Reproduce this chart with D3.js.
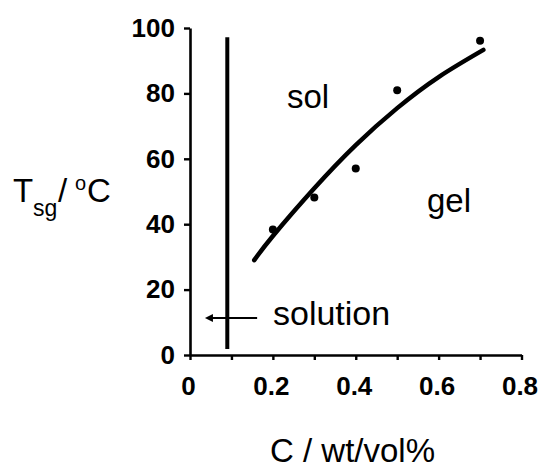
<!DOCTYPE html>
<html>
<head>
<meta charset="utf-8">
<script src="https://cdn.jsdelivr.net/npm/d3@7"></script>
<style>
  body { margin: 0; background: #fff; }
  text { font-family: "Liberation Sans", Arial, sans-serif; fill: #000; }
</style>
</head>
<body>
<div id="chart"></div>
<script>
// measured points
var concentration = [0.2, 0.3, 0.4, 0.5, 0.7];
var tsg = [38.4, 48.2, 57.0, 81.0, 96.1];

// fitted curve
var fitC = [0.155, 0.2, 0.3, 0.4, 0.5, 0.6, 0.708];
var fitT = [29.0, 36.4, 51.0, 64.2, 75.5, 85.0, 93.3];

var xTicks = [0, 0.1, 0.2, 0.3, 0.4, 0.5, 0.6, 0.7, 0.8];
var yTicks = [0, 20, 40, 60, 80, 100];

// solution boundary
var boundaryC = 0.09;
var boundaryT = [1.8, 97.2];
var arrowC = [0.162, 0.036];
var arrowT = 11.3;

var W = 539, H = 470;
var margin = {top: 28, left: 190};
var width = 331.5, height = 327;

var svg = d3.select("#chart").append("svg")
  .attr("width", W)
  .attr("height", H);

var g = svg.append("g")
  .attr("transform", "translate(" + margin.left + "," + margin.top + ")");

var x = d3.scaleLinear().domain([0, 0.8]).range([0, width]);
var y = d3.scaleLinear().domain([0, 100]).range([height, 0]);

var xAxis = d3.axisBottom(x)
  .tickValues(xTicks)
  .tickSize(5)
  .tickSizeOuter(0)
  .tickPadding(17)
  .tickFormat(function(d) {
    var k = Math.round(d * 10);
    if (k % 2 !== 0) return "";
    return k === 0 ? "0" : d3.format(".1f")(d);
  });

var yAxis = d3.axisLeft(y)
  .tickValues(yTicks)
  .tickSize(6)
  .tickSizeOuter(0)
  .tickPadding(9);

var gx = g.append("g")
  .attr("transform", "translate(0," + height + ")")
  .call(xAxis);
var gy = g.append("g").call(yAxis);

[gx, gy].forEach(function(ax) {
  ax.select(".domain").attr("stroke", "#000").attr("stroke-width", 2.6);
  ax.selectAll(".tick line").attr("stroke", "#000").attr("stroke-width", 2.4);
  ax.selectAll(".tick text")
    .style("font-family", '"Liberation Sans", Arial, sans-serif')
    .style("font-weight", "bold")
    .style("font-size", "26px")
    .attr("fill", "#000");
});
gx.selectAll(".tick text").attr("dx", "-2");

// vertical boundary line
g.append("line")
  .attr("x1", x(boundaryC)).attr("x2", x(boundaryC))
  .attr("y1", y(boundaryT[0])).attr("y2", y(boundaryT[1]))
  .attr("stroke", "#000")
  .attr("stroke-width", 4);

// arrow pointing to solution region
g.append("line")
  .attr("x1", x(arrowC[0])).attr("x2", x(arrowC[1]) + 5)
  .attr("y1", y(arrowT)).attr("y2", y(arrowT))
  .attr("stroke", "#000")
  .attr("stroke-width", 2);

var tipX = x(arrowC[1]), tipY = y(arrowT);
g.append("path")
  .attr("d", "M" + tipX + "," + tipY + "L" + (tipX + 8) + "," + (tipY - 4) + "L" + (tipX + 8) + "," + (tipY + 4) + "Z")
  .attr("fill", "#000");

// fitted curve
var fit = fitC.map(function(c, i) { return [c, fitT[i]]; });
var line = d3.line()
  .x(function(d) { return x(d[0]); })
  .y(function(d) { return y(d[1]); })
  .curve(d3.curveNatural);

g.append("path")
  .datum(fit)
  .attr("d", line)
  .attr("fill", "none")
  .attr("stroke", "#000")
  .attr("stroke-width", 4.5)
  .attr("stroke-linecap", "round");

// data points
g.selectAll("circle.pt")
  .data(concentration)
  .enter().append("circle")
  .attr("class", "pt")
  .attr("cx", function(d) { return x(d); })
  .attr("cy", function(d, i) { return y(tsg[i]); })
  .attr("r", 4)
  .attr("fill", "#000");

// region labels
svg.append("text").attr("x", 287).attr("y", 108).style("font-size", "33px").text("sol");
svg.append("text").attr("x", 427).attr("y", 212).style("font-size", "33px").text("gel");
svg.append("text").attr("x", 273).attr("y", 325).style("font-size", "34px").text("solution");

// axis titles
var yt = svg.append("text").attr("y", 202).style("font-size", "33px");
yt.append("tspan").attr("x", 13).text("T");
yt.append("tspan").attr("x", 33).attr("y", 216).style("font-size", "23px").text("sg");
yt.append("tspan").attr("x", 58).attr("y", 202).text("/");
yt.append("tspan").attr("x", 75).attr("y", 190).style("font-size", "20px").text("o");
yt.append("tspan").attr("x", 87).attr("y", 202).text("C");

svg.append("text")
  .attr("x", 270).attr("y", 462)
  .style("font-size", "33px")
  .text("C / wt/vol%");
</script>
</body>
</html>
